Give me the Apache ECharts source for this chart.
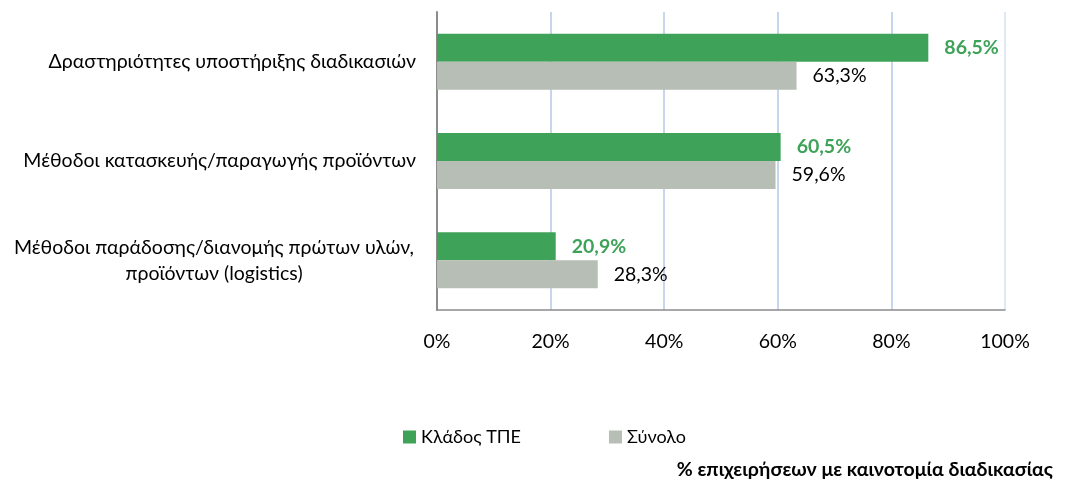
<!DOCTYPE html>
<html>
<head>
<meta charset="utf-8">
<script src="https://cdn.jsdelivr.net/npm/echarts@6/dist/echarts.min.js"></script>
<style>
  html, body { margin: 0; padding: 0; background: #fff; }
  #chart { width: 1072px; height: 479px; }
</style>
</head>
<body>
<div id="chart"></div>
<script>
// categories (top to bottom in the picture)
const categories = [
  'Δραστηριότητες υποστήριξης διαδικασιών',
  'Μέθοδοι κατασκευής/παραγωγής προϊόντων',
  'Μέθοδοι παράδοσης/διανομής πρώτων υλών,\nπροϊόντων (logistics)'
]
const seriesNames = ['Κλάδος ΤΠΕ', 'Σύνολο']
const sectorValues = [86.5, 60.5, 20.9]
const totalValues = [63.3, 59.6, 28.3]
const xTicks = [0, 20, 40, 60, 80, 100]

const FONT = 'Lato'
const FS = 19.5
const fmt = (v) => v.toFixed(1).replace('.', ',') + '%'

const chart = echarts.init(document.getElementById('chart'))
chart.setOption({
  animation: false,
  textStyle: { fontFamily: FONT },
  grid: { left: 437, right: 67, top: 12, bottom: 169 },
  legend: {
    data: seriesNames,
    left: 398,
    top: 423,
    icon: 'rect',
    itemWidth: 13,
    itemHeight: 13,
    itemGap: 88,
    textStyle: { fontFamily: FONT, fontSize: 18, color: '#000' }
  },
  title: {
    text: '% επιχειρήσεων με καινοτομία διαδικασίας',
    right: 14,
    top: 455,
    textStyle: { fontFamily: FONT, fontSize: FS, fontWeight: 'bold', color: '#000' }
  },
  xAxis: {
    type: 'value',
    min: xTicks[0],
    max: xTicks[xTicks.length - 1],
    interval: 20,
    axisLine: { show: true, lineStyle: { color: '#8c8c8c', width: 1.5 } },
    axisTick: { show: false },
    axisLabel: {
      margin: 22,
      fontFamily: FONT,
      fontSize: FS,
      color: '#000',
      formatter: (v) => v + '%'
    },
    splitLine: {
      show: true,
      lineStyle: {
        color: ['#b4c7e7', '#b4c7e7', '#b4c7e7', '#b4c7e7', '#b4c7e7', '#d6e0f1'],
        width: 1.5
      }
    }
  },
  yAxis: {
    type: 'category',
    inverse: true,
    data: categories,
    axisLine: { show: true, lineStyle: { color: '#8c8c8c', width: 2 } },
    axisTick: { show: false },
    axisLabel: {
      margin: 21,
      fontFamily: FONT,
      fontSize: FS,
      color: '#000',
      // multi-line labels get their lines centred on each other
      formatter: (v) => v.indexOf('\n') < 0 ? v : '{c|' + v.split('\n').join('}\n{c|') + '}',
      rich: {
        c: { fontFamily: FONT, fontSize: FS, color: '#000', width: 404, align: 'center', lineHeight: 26 }
      }
    }
  },
  series: [
    {
      name: seriesNames[0],
      type: 'bar',
      data: sectorValues,
      barWidth: 28,
      barGap: '0%',
      itemStyle: { color: '#3ea359' },
      label: {
        show: true,
        position: 'right',
        distance: 16,
        fontFamily: FONT,
        fontSize: FS,
        fontWeight: 'bold',
        color: '#3ea359',
        formatter: (p) => fmt(p.value)
      }
    },
    {
      name: seriesNames[1],
      type: 'bar',
      data: totalValues,
      barWidth: 28,
      itemStyle: { color: '#b6beb5' },
      label: {
        show: true,
        position: 'right',
        distance: 16,
        fontFamily: FONT,
        fontSize: FS,
        color: '#000',
        formatter: (p) => fmt(p.value)
      }
    }
  ]
})
</script>
</body>
</html>
